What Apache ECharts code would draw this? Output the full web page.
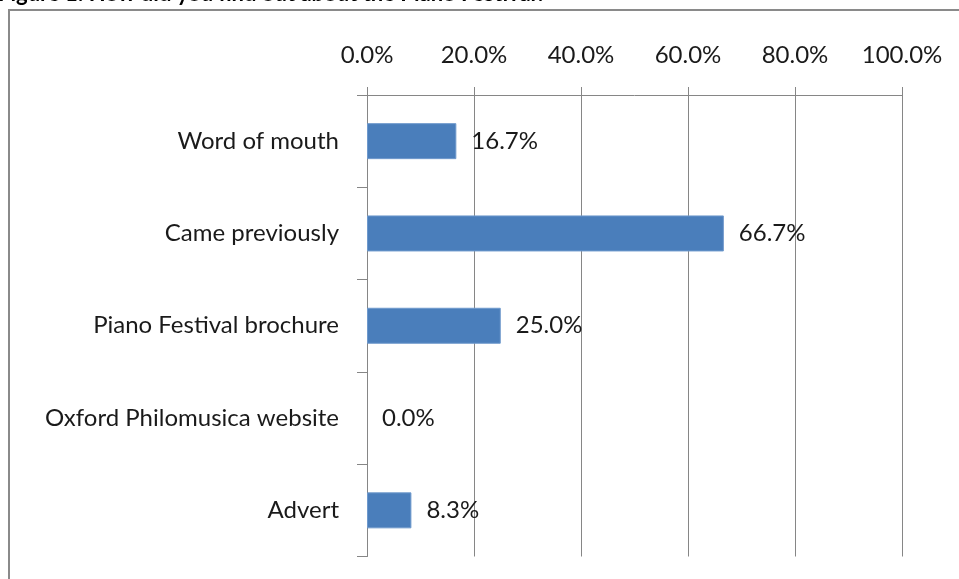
<!DOCTYPE html>
<html>
<head>
<meta charset="utf-8">
<script src="https://cdn.jsdelivr.net/npm/echarts@6/dist/echarts.min.js"></script>
<style>
html,body{margin:0;padding:0;background:#fff;}
#chart{width:959px;height:579px;}
</style>
</head>
<body>
<div id="chart"></div>
<script>
const titleText = 'Figure 1: How did you find out about the Piano Festival?';
const categories = ['Word of mouth', 'Came previously', 'Piano Festival brochure', 'Oxford Philomusica website', 'Advert'];
const values = [16.7, 66.7, 25.0, 0.0, 8.3];
const tickValues = [0, 20, 40, 60, 80, 100];

const chart = echarts.init(document.getElementById('chart'), null, {renderer: 'canvas'});
const FONT = 'Lato, "Open Sans", sans-serif';
const gridColor = '#868686';
const FS = 24;

const barData = values.map(v => ({
  value: v,
  itemStyle: {borderWidth: v === 0 ? 0 : 1}
}));

chart.setOption({
  animation: false,
  backgroundColor: '#fff',
  graphic: [
    {
      type: 'rect', z: 0,
      shape: {x: 9, y: 10, width: 1000, height: 1000},
      style: {fill: 'none', stroke: '#8a8a8a', lineWidth: 2}
    },
    {
      type: 'text', z: 1, left: -2, top: -17,
      style: {text: titleText, font: 'bold 22px ' + FONT, fill: '#000'}
    }
  ],
  grid: {left: 367, right: 57, top: 95, bottom: 22.5, containLabel: false},
  xAxis: {
    type: 'value',
    position: 'top',
    min: 0, max: 100, interval: 20,
    axisLine: {show: true, lineStyle: {color: gridColor, width: 1}},
    axisTick: {show: true, length: 8, lineStyle: {color: gridColor}},
    splitLine: {show: true, lineStyle: {color: gridColor, width: 1}},
    axisLabel: {
      margin: 28,
      color: '#1a1a1a',
      fontFamily: FONT,
      fontSize: FS,
      formatter: v => tickValues.indexOf(v) >= 0 ? v.toFixed(1) + '%' : ''
    }
  },
  yAxis: {
    type: 'category',
    data: categories,
    inverse: true,
    axisLine: {show: true, lineStyle: {color: gridColor, width: 1}},
    axisTick: {show: true, length: 10, lineStyle: {color: gridColor}},
    splitLine: {show: false},
    axisLabel: {
      margin: 28,
      color: '#1a1a1a',
      fontFamily: FONT,
      fontSize: FS
    }
  },
  series: [{
    type: 'bar',
    data: barData,
    barWidth: 36,
    itemStyle: {color: '#4a7ebb', borderColor: '#6f99cc', borderWidth: 1},
    label: {
      show: true,
      position: 'right',
      distance: 15,
      color: '#1a1a1a',
      fontFamily: FONT,
      fontSize: FS,
      formatter: p => p.value.toFixed(1) + '%'
    }
  }]
});
</script>
</body>
</html>
